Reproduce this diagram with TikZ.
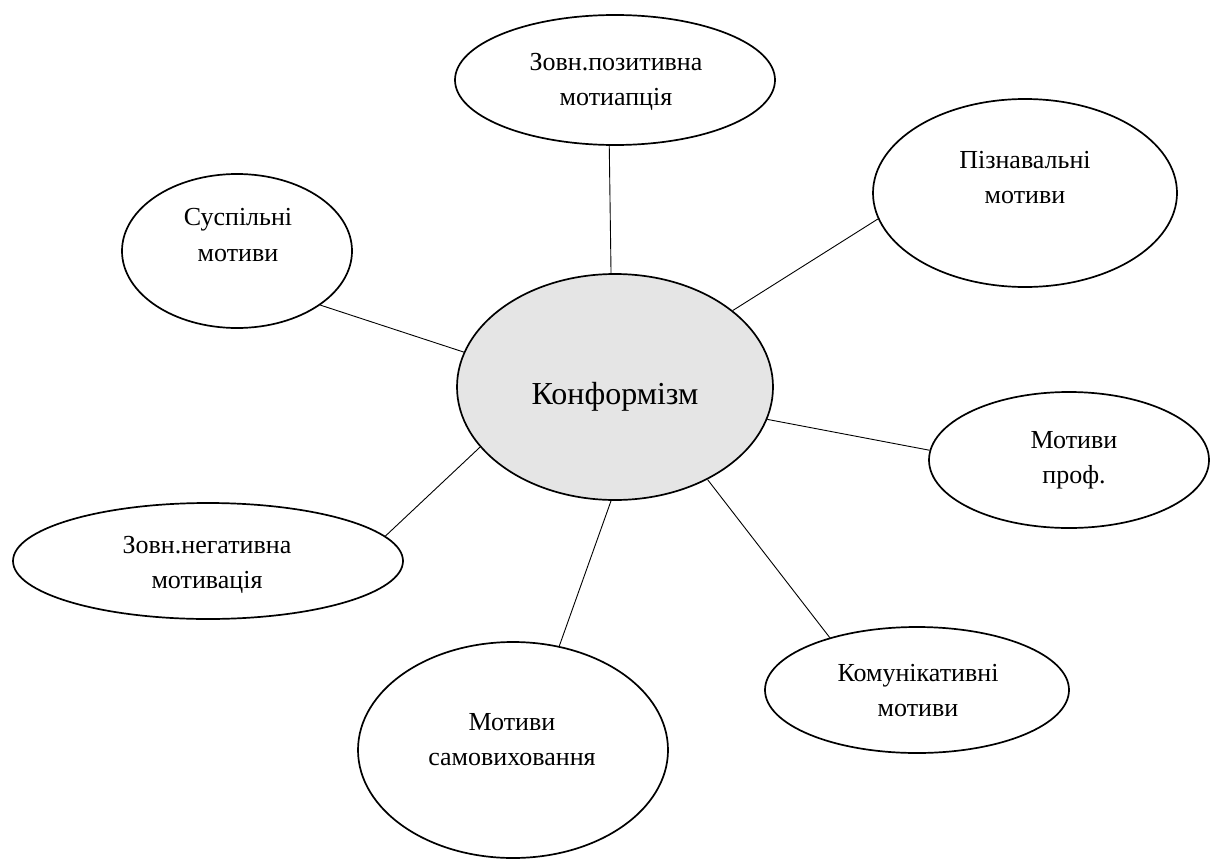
\documentclass[tikz,border=0pt]{standalone}
\usepackage{fontspec}
\setmainfont{Liberation Serif}
\usetikzlibrary{shapes.geometric}
\begin{document}
\begin{tikzpicture}[x=1pt,y=-1pt,
  oval/.style={draw=black, line width=1.7pt, ellipse, inner sep=0pt, fill=white},
  txt/.style={inner sep=0pt, align=center, anchor=north, font=\fontsize{26}{35.5}\selectfont},
  link/.style={draw=black, line width=0.9pt}
]
\useasboundingbox (0,0) rectangle (1210,862);
% ellipses
\node[oval, fill=gray!20, minimum width=316pt, minimum height=226pt] (c) at (615,387) {};
\node[oval, minimum width=320pt, minimum height=130pt] (t) at (615,80) {};
\node[oval, minimum width=304pt, minimum height=188pt] (p) at (1025,193) {};
\node[oval, minimum width=230pt, minimum height=154pt] (s) at (237,251) {};
\node[oval, minimum width=280pt, minimum height=136pt] (m) at (1069,460) {};
\node[oval, minimum width=390pt, minimum height=116pt] (n) at (208,561) {};
\node[oval, minimum width=310pt, minimum height=216pt] (v) at (513,750) {};
\node[oval, minimum width=304pt, minimum height=126pt] (k) at (917,690) {};
% texts
\node[inner sep=0pt, anchor=base, font=\fontsize{32}{36}\selectfont] (ct) at (615,404) {Конформізм};
\node[txt] (tt) at (616,53) {Зовн.позитивна\\мотиапція};
\node[txt] (pt) at (1025,151) {Пізнавальні\\мотиви};
\node[txt] (st) at (238,208.5) {Суспільні\\мотиви};
\node[txt] (mt) at (1074,431) {Мотиви\\проф.};
\node[txt] (nt) at (207,536) {Зовн.негативна\\мотивація};
\node[txt] (vt) at (512,713) {Мотиви\\самовиховання};
\node[txt] (kt) at (918,664) {Комунікативні\\мотиви};
% connectors
\draw[link] (c.92.5) -- (t.265.6);
\draw[link] (c.33.5) -- (p.190);
\draw[link] (c.167.8) -- (s.327.8);
\draw[link] (c.348.9) -- (m.176);
\draw[link] (c.204.5) -- (n.8);
\draw[link] (c.268) -- (v.66.3);
\draw[link] (c.315.3) -- (k.149.5);
\end{tikzpicture}
\end{document}
